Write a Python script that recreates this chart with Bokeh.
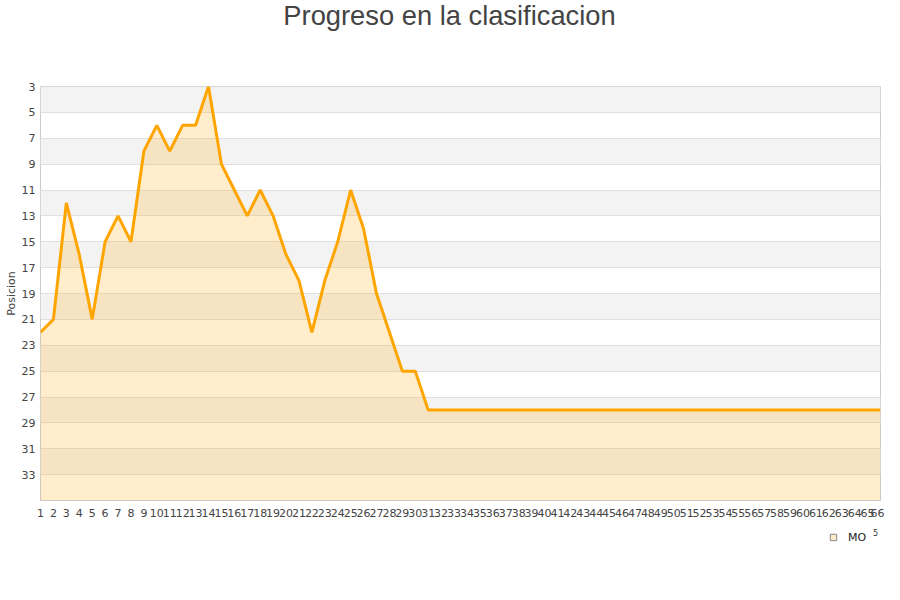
from bokeh.plotting import figure
from bokeh.layouts import column
from bokeh.models import Range1d, FixedTicker, ColumnDataSource, Legend, LegendItem
from bokeh.core.properties import value
from bokeh.embed import file_html
from bokeh.resources import INLINE

titulo = "Progreso en la clasificacion"
jornadas = list(range(1, 67))
posiciones = [22, 21, 12, 16, 21, 15, 13, 15, 8, 6, 8, 6, 6, 3, 9, 11, 13, 11, 13, 16,
              18, 22, 18, 15, 11, 14, 19, 22, 25, 25, 28, 28, 28, 28, 28, 28, 28, 28, 28, 28,
              28, 28, 28, 28, 28, 28, 28, 28, 28, 28, 28, 28, 28, 28, 28, 28, 28, 28, 28, 28,
              28, 28, 28, 28, 28, 28]
y_ticks = [3, 5, 7, 9, 11, 13, 15, 17, 19, 21, 23, 25, 27, 29, 31, 33]
band_ticks = [3] + y_ticks
y_bottom = 35
y_top = 3
equipo = "MO"
nota = "5"

W = 884
FRAME_W = 840  # frame of every stacked figure is aligned: page x 40..880


def blank(h):
    f = figure(width=W, height=h, output_backend="svg", toolbar_location=None,
               x_range=Range1d(0, FRAME_W), y_range=Range1d(0, h),
               x_axis_location=None, y_axis_location=None,
               min_border_left=40, min_border_right=4, min_border_top=0, min_border_bottom=0)
    f.outline_line_color = None
    f.grid.visible = False
    f.background_fill_color = "white"
    f.border_fill_color = "white"
    return f


# header with title
HH = 78
header = blank(HH)
header.text(x=[409], y=[HH - 15], text=[titulo], text_align="center", text_baseline="middle",
            text_font=value("Liberation Sans"), text_font_size=value("27.3px"),
            text_color="#444444")

# main chart
src = ColumnDataSource(dict(x=jornadas, y=posiciones, base=[y_bottom] * len(jornadas)))

p = figure(width=W, height=446, output_backend="svg", toolbar_location=None,
           x_range=Range1d(jornadas[0], jornadas[-1]), y_range=Range1d(y_bottom, y_top),
           min_border_left=40, min_border_right=4, min_border_top=8, min_border_bottom=24)

p.outline_line_color = "#cccccc"
p.background_fill_color = "white"
p.border_fill_color = "white"

p.xgrid.visible = False
p.ygrid.ticker = FixedTicker(ticks=band_ticks)
p.ygrid.grid_line_color = "#e0e0e0"
p.ygrid.band_fill_color = "#f3f3f3"
p.ygrid.band_fill_alpha = 1.0

p.varea(x="x", y1="y", y2="base", source=src, fill_color="#ffa500", fill_alpha=0.2)
p.line(x="x", y="y", source=src, line_color="#ffa500", line_width=3)

p.xaxis.ticker = FixedTicker(ticks=jornadas)
p.yaxis.ticker = FixedTicker(ticks=y_ticks)
for ax in (p.xaxis[0], p.yaxis[0]):
    ax.axis_line_color = None
    ax.major_tick_line_color = None
    ax.minor_tick_line_color = None
    ax.major_tick_out = 0
    ax.major_tick_in = 0
    ax.major_label_text_font = "DejaVu Sans"
    ax.major_label_text_font_size = "11px"
    ax.major_label_text_color = "#444444"
p.xaxis.major_label_standoff = 8
p.yaxis.major_label_standoff = 5
p.yaxis.axis_label = "Posicion"
p.yaxis.axis_label_text_font = "DejaVu Sans"
p.yaxis.axis_label_text_font_size = "11px"
p.yaxis.axis_label_text_font_style = "normal"
p.yaxis.axis_label_text_color = "#444444"
p.yaxis.axis_label_standoff = 1

# footer with legend
FH = 46
footer = blank(FH)
# legend proxy: one point placed outside the visible footer frame
leg_src = ColumnDataSource(dict(x=[-100], y=[-100]))
leg_r = footer.scatter(x="x", y="y", source=leg_src, marker="square", size=14,
                       fill_color="#fdebc8", line_color="#888888", line_width=1)
legend = Legend(items=[LegendItem(label=equipo, renderers=[leg_r])],
                location=(785, 25), orientation="horizontal",
                background_fill_alpha=0, border_line_color=None,
                label_text_font="DejaVu Sans", label_text_font_size="11px",
                label_text_color="#222222", glyph_width=16, glyph_height=16,
                label_standoff=7, padding=0, margin=0)
footer.add_layout(legend, "center")
footer.text(x=[835], y=[38], text=[nota], text_align="center", text_baseline="middle",
            text_font=value("DejaVu Sans"), text_font_size=value("8px"),
            text_color="#333333")

layout = column(header, p, footer, spacing=0)
open("out.html", "w").write(file_html(layout, INLINE))
